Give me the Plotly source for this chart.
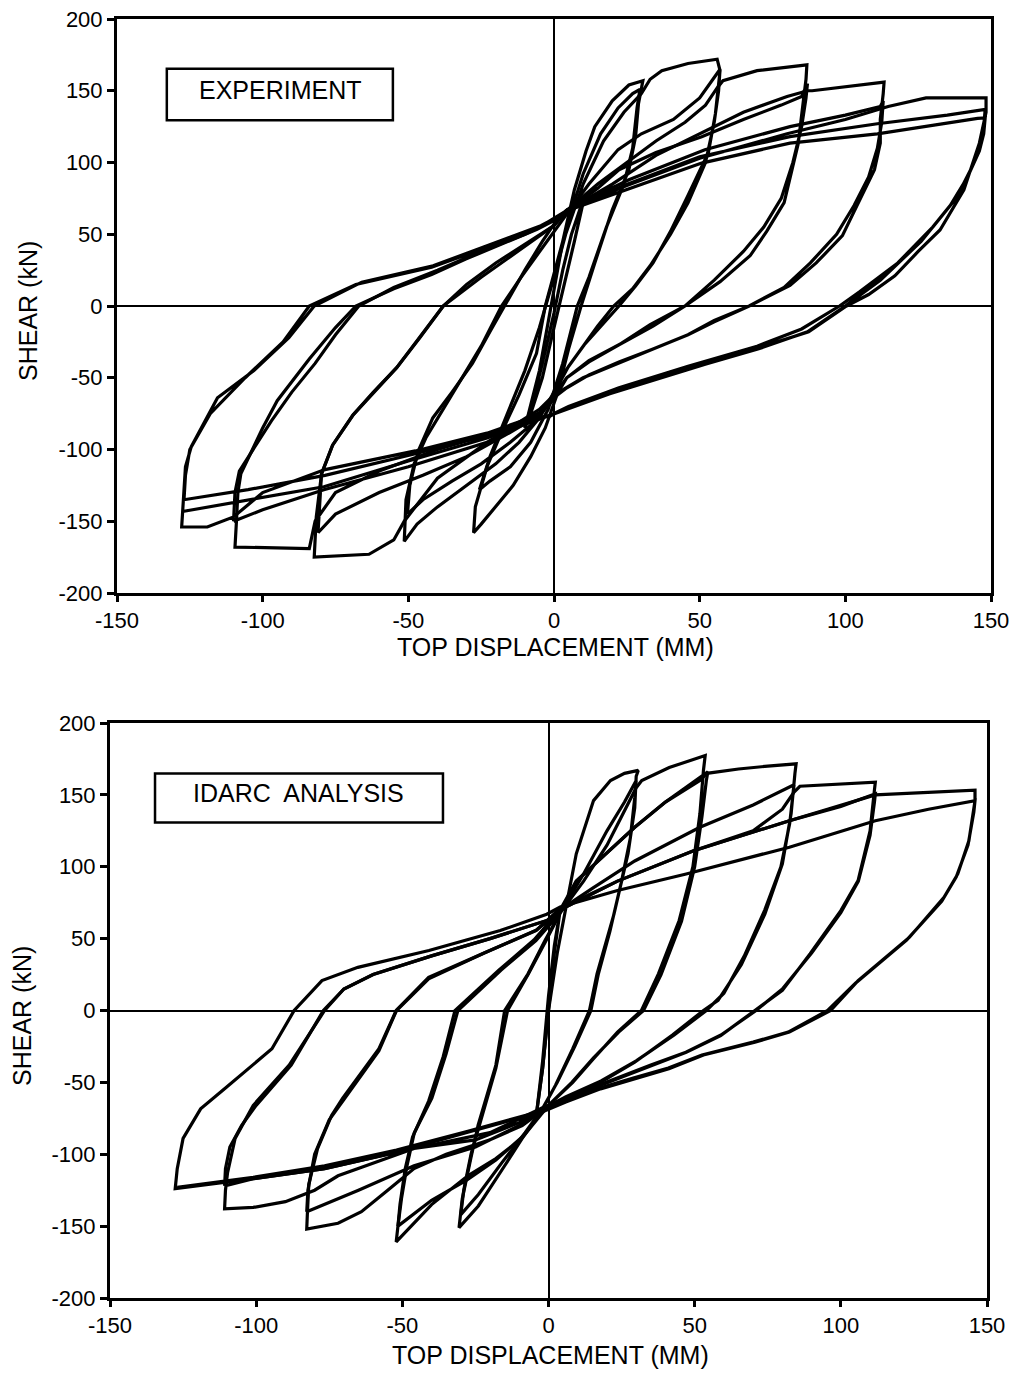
import plotly.graph_objects as go

# ---------------- EXPERIMENT (top panel) : displacement (mm), shear (kN) ----------------
EXP_L1_X = [-10, -7, -4, 0, 3, 6, 9, 10, 7, 4, 0, -4, -8, -10]
EXP_L1_Y = [-85, -65, -40, -5, 25, 50, 68, 72, 45, 20, -15, -50, -75, -85]

EXP_L2_X = [-10, -5, -1, 3, 7, 11, 14, 20, 25.7, 30.5,
            29, 28, 25.7, 20, 14, 9.3, 5, 1, -3, -8, -14, -20, -25, -27.6,
            -27, -23, -18, -12, -6, -3, 1, 5, 10, 16, 22, 27, 29.5,
            28.5, 27, 24, 18, 12, 8, 3, -2, -8, -15, -22, -25.6]
EXP_L2_Y = [-85, -45, 0, 45, 81, 108, 125, 143, 154, 157,
            141, 118, 95, 67, 30, 0, -30, -62, -85, -105, -125, -140, -152, -158,
            -140, -112, -88, -62, -33, 0, 30, 60, 92, 120, 138, 148, 151,
            138, 110, 85, 55, 20, 0, -40, -72, -95, -112, -122, -128]

EXP_L3_X = [-25.6, -22, -16, -10, -5, 0, 4, 10, 17, 24, 30, 33, 37, 46, 56,
            57, 55.4, 53, 46, 40, 34, 28, 22.3, 16, 10.4, 5, 1, -5, -12, -20, -30, -40, -47, -51.4,
            -50.8, -48, -44, -38, -31.6, -25, -18, -12, -6, 0, 4, 12, 22, 30, 41, 50, 55.5, 57,
            56.5, 55, 52, 46, 40, 33, 27, 20.5, 15, 10, 4, 0, -5, -15, -25, -35, -45, -50.3]
EXP_L3_Y = [-128, -105, -75, -45, -15, 20, 50, 85, 115, 135, 148, 158, 164, 169, 172,
            164, 134, 107, 77, 52, 30, 14, 0, -14, -27, -42, -57, -78, -95, -110, -125, -140, -152, -164,
            -135, -110, -92, -72, -50, -28, 0, 18, 35, 52, 63, 85, 109, 120, 130, 145, 160, 165,
            150, 128, 100, 72, 50, 28, 12, 0, -14, -28, -45, -60, -78, -95, -110, -122, -135, -145]

EXP_L4_X = [-50.3, -49.5, -46.6, -41.6, -35, -28, -22, -17, -10, -4, 0, 4, 15, 25, 35, 45, 52, 56, 58, 69.7, 86.8,
            86.5, 85.5, 83.8, 79, 73, 67.3, 57, 45, 34, 22.3, 12, 4.4, -3.8, -10, -25, -40, -51.4, -55, -63.5, -82.3,
            -82, -81.6, -79.8, -76, -69, -62, -54, -46, -38, -30, -20, -10, 0, 4, 15, 22.3, 35, 50.7, 65, 78, 85, 87,
            86.5, 85, 82, 78, 72, 65, 55, 45, 33, 22.3, 12, 4.4, 0, -5, -15, -30, -45, -60, -75, -81]
EXP_L4_Y = [-145, -125, -101, -78, -60, -40, -18, 0, 25, 45, 57, 66, 85, 100, 115, 128, 140, 152, 157, 164, 168,
            158, 141, 113, 72, 52, 35, 17, 0, -14, -27, -39, -50, -73, -80, -98, -120, -150, -163, -173, -175,
            -160, -147, -117, -97, -76, -60, -43, -22, 0, 15, 30, 43, 56, 65, 82, 95, 107, 118, 130, 140, 146, 155,
            145, 125, 100, 75, 55, 38, 18, 0, -13, -27, -38, -50, -65, -76, -88, -105, -118, -130, -145, -158]

EXP_L5_X = [-81, -80.5, -79.8, -76, -69, -54, -38, -25, -10, 0, 4, 20, 35, 50, 65, 80, 87, 88.6, 100, 113.3,
            113, 112, 112, 110, 104, 99, 90, 81, 67, 55, 46, 34, 22.3, 12, 4.4, -1.4, -5, -20, -40, -60, -75, -82, -84, -100, -109.5,
            -109, -108.5, -107.5, -104.5, -100, -95, -84, -75, -68, -55, -42, -30.3, -18, -5.8, 1.4, 4.5, 25.7, 51.8, 81, 100, 112, 113,
            112.5, 111, 108, 103, 97, 88, 79, 67, 55, 46, 34, 22.3, 10, 0, -5, -23, -50, -79, -100, -110]
EXP_L5_Y = [-158, -140, -117, -97, -76, -43, 0, 20, 42, 56, 66, 85, 105, 120, 135, 146, 150, 150, 153, 156,
            148, 130, 113.5, 95, 70, 49, 30, 14.3, 0, -10, -20, -30, -39, -48, -57, -66, -75, -88, -100, -115, -130, -150, -169, -168.5, -168,
            -150, -130, -117, -104, -85, -66, -37, -15, 0, 12, 22, 32.7, 43, 53.5, 61, 67, 88, 108.9, 125, 133, 139, 143,
            128, 110, 90, 70, 50, 30, 13, 0, -11, -20, -30, -40, -50, -62, -72, -95, -112, -128, -142, -150]

EXP_L6_X = [-110, -109.5, -108, -104, -97, -90, -82, -75, -67, -55, -40, -25, -10, 0, 4.5, 25, 50, 80, 100, 114.7, 127.7, 148.3,
            148.3, 146, 143, 140.7, 132.5, 125, 117, 108, 100.4, 87.4, 69.7, 46, 22.3, 5, -1.4, -10.9, -23, -47.6, -78.6, -100, -110, -119, -127.8,
            -127.3, -126.5, -124.5, -115.5, -103, -91, -82.3, -66, -41.5, -23, -4.5, 2, 4.5, 24, 50, 81, 111, 135, 148,
            147.5, 146, 143, 138, 130, 118, 105, 98, 85, 69.7, 46, 22.3, 5, -1, -10.9, -23, -47.6, -78.6, -105, -127,
            -126.5, -125, -118, -106, -93, -84, -68, -42, -23, -5, 4, 24.6, 50.7, 81, 111, 145.4, 148,
            147.5, 146, 142, 136, 126, 112, 100, 87, 70, 46, 22, 0, -23, -50, -79, -127]
EXP_L6_Y = [-150, -130, -115, -102, -80, -60, -40, -20, 0, 13, 25, 38, 50, 60, 67, 84, 103, 120, 130, 139, 145, 145,
            135, 113.5, 95, 81, 53, 38, 21, 8, 0, -18, -29.5, -44.4, -59.5, -70, -76.8, -80, -88.6, -101, -114, -130, -147, -154, -154,
            -135, -112, -98, -64, -45, -22, 0, 16.6, 28, 42, 56, 63, 67, 84, 104, 118, 127, 133, 137,
            125, 110, 95, 75, 55, 30, 10, 0, -16, -28, -42, -57, -70, -76, -80, -90, -103, -118, -128, -135,
            -118, -100, -75, -50, -25, 0, 15, 27, 41, 55, 66, 81, 99.6, 113.5, 120, 130.8, 131,
            120, 108, 90, 70, 45, 18, 0, -18, -30, -44, -59, -75, -92, -108, -126, -143]

# ---------------- IDARC ANALYSIS (bottom panel) ----------------
IDA_L1_X = [-4, -2, 0, 2, 4, 2, 0, -2, -4]
IDA_L1_Y = [-70, -35, 10, 45, 70, 40, 0, -40, -70]

IDA_L2_X = [-4, -2, 0, 3, 6, 9.5, 15.4, 21.2, 26, 30.7,
            30, 29.5, 27.2, 22.4, 16.6, 14, 8.3, 2.4, -2.4, -9, -15, -24, -30.6,
            -29.5, -26.6, -24.1, -18, -15, -7, -1.2, 4, 12, 20, 26, 30,
            29.5, 28, 25, 21, 17, 14.5, 9, 3, -2, -8, -16, -24, -30]
IDA_L2_Y = [-70, -40, 0, 40, 72, 109, 146, 160, 165, 167,
            163, 141, 109, 67, 25.5, 0, -26.6, -52, -70, -89, -108, -136, -151,
            -131, -103, -80, -38, 0, 25.5, 48.7, 68, 95, 125, 145, 160,
            148, 120, 90, 55, 25, 0, -25, -50, -68, -85, -106, -128, -142]

IDA_L3_X = [-30, -29, -26.5, -23, -18, -14, -7, -1, 4, 12, 20, 25, 30, 31.9, 41.3, 53.6,
            53, 51.8, 49.4, 44.7, 37.6, 31.8, 23.6, 15.4, 8.3, 0, -9.2, -18, -27.6, -40, -52.1,
            -51.5, -50.3, -48.4, -45.9, -39.9, -35, -31, -16.3, -4.3, 4, 9.5, 20, 29.5, 40, 51.8, 54.5,
            54, 52.5, 50, 45.5, 38.5, 32.5, 24, 15.4, 8, 0, -9, -18, -28, -40, -51.5]
IDA_L3_Y = [-142, -125, -100, -75, -40, 0, 25, 48, 68, 90, 115, 135, 155, 160, 169, 177.4,
            167, 137, 100, 62.6, 25.5, 0, -15, -33.6, -50, -66, -89, -103, -115, -135, -161,
            -150, -131, -108, -85, -61, -30, 0, 28, 48.7, 68, 90, 110, 127.5, 145, 162, 166,
            160, 135, 100, 62, 25, 0, -15, -33, -50, -66, -88, -104, -118, -132, -150]

IDA_L4_X = [-51.5, -50.8, -49, -46.5, -41, -36, -32, -17, -5, 4, 9.5, 20, 29.5, 40, 51.8, 54.2, 65, 75, 84.7,
            84.3, 83, 80, 74, 66, 58, 53, 42.4, 29.5, 17.8, 5.9, -2.4, -9, -20, -35, -46, -55, -64, -72, -82.7,
            -82.5, -82, -79, -74.2, -70.4, -58, -52.1, -41, -22.6, -4.3, 4, 15, 29.5, 51.8, 70, 82.4, 84,
            83.5, 82.5, 79.5, 74, 67, 60, 54, 43, 30, 18, 6, -2.4, -10, -25, -46, -65, -82.7]
IDA_L4_Y = [-150, -135, -110, -88, -63, -32, 0, 28, 49, 70, 90, 110, 127.5, 145, 160, 165, 168, 170, 171.6,
            165, 137, 102, 67, 32, 7, 0, -17, -36, -50, -61, -70, -80, -90, -100, -110, -125, -140, -148, -152,
            -142, -121, -96, -73, -61, -26.6, 0, 23, 39.5, 55.6, 70, 85, 104, 127.5, 143, 155.4, 157,
            148, 130, 100, 70, 38, 12, 0, -17, -35, -49, -60, -69, -80, -95, -108, -125, -140]

IDA_L5_X = [-82.7, -82.3, -80, -75, -70, -58, -52, -41, -22, -4, 4, 23.6, 49.4, 70, 80, 84, 86, 100, 111.8,
            111.5, 110, 105.9, 100, 89.5, 80, 70.6, 58.9, 47.1, 35.4, 23.6, 11.9, -2.4, -10, -25, -46, -60, -72, -80, -90, -101, -110.8,
            -110.5, -109.8, -107.2, -101, -88.7, -76.6, -70, -60, -40, -20, 0, 4, 23.6, 49.4, 82.4, 100, 111.8,
            111.5, 110, 106, 100, 90, 80, 71, 59, 47, 35, 23.6, 12, -2.4, -20, -46, -76.6, -101, -110.8]
IDA_L5_Y = [-140, -125, -100, -76, -62, -28, 0, 22, 40, 56, 71, 90, 111, 125, 140, 152, 156, 157.5, 158.8,
            153.5, 125, 90.4, 69.5, 39.5, 14, 0, -17.4, -29, -38, -47.5, -56.7, -68, -78, -90, -96, -106, -115, -125, -133, -137, -138,
            -125, -113, -89, -66, -38, 0, 15, 25, 38, 50, 63, 70, 90, 111, 132, 142, 150.7,
            145, 122, 90, 68, 40, 15, 0, -17, -29, -38, -47, -56, -68, -85, -96, -110, -117, -122]

IDA_L6_X = [-110.8, -110.5, -109, -105, -100, -88, -77, -70, -60, -40, -20, 0, 4, 23.6, 49.4, 82.4, 111.8, 130, 145.9,
            145.9, 143.8, 140, 135.3, 123.5, 105.9, 96.5, 82.4, 70.6, 53, 41.2, 29.5, 17.8, 5.9, -2.4, -27.6, -52, -76.6, -101, -127.7,
            -127, -125, -119, -110.8, -94.6, -87, -77.5, -65.2, -40.9, -16.5, -0.6, 4, 23.6, 47.1, 82.4, 111.8, 130, 145.9,
            145.5, 143.5, 139.5, 134.5, 122.5, 105, 95.5, 82, 70, 52.5, 41, 29, 17.5, 5.5, -2.4, -27.6, -52, -76.6, -101, -127]
IDA_L6_Y = [-122, -110, -95, -80, -66, -38, 0, 15, 25, 38, 50, 63, 70, 90, 111, 132, 150, 152, 153.3,
            146, 118, 95, 78.8, 51, 20.8, 0, -15, -22, -31, -40.6, -47.5, -54.5, -63.7, -70.7, -84.6, -98.5, -110, -117, -124,
            -110, -89, -68.4, -54.5, -26.6, 0, 20.8, 30, 41.7, 55.6, 67, 72, 83.5, 95, 113.6, 132, 140, 146,
            138, 115, 93, 76, 49, 19, 0, -15, -22, -31, -40, -47, -54, -63, -70, -84, -97, -108, -116, -123]

X_TICKS = [-150, -100, -50, 0, 50, 100, 150]
X_TICK_TEXT = ["-150", "-100", "-50", "0", "50", "100", "150"]
Y_TICKS = [-200, -150, -100, -50, 0, 50, 100, 150, 200]
Y_TICK_TEXT = ["-200", "-150", "-100", "-50", "0", "50", "100", "150", "200"]

PANEL_LABELS = ["EXPERIMENT", "IDARC  ANALYSIS"]
X_TITLE = "TOP DISPLACEMENT (MM)"
Y_TITLE = "SHEAR (kN)"

FONT = "Liberation Sans, Arial, Helvetica, sans-serif"
# the page body keeps its default 8 px margin, so the figure is drawn 8 px in
OFF = 8
W, H = 1024 - OFF, 1373 - OFF


def fx(px):
    return (px - OFF) / W


def fy(py):
    return 1 - (py - OFF) / H


fig = go.Figure()
line_style = dict(color="black", width=3.2)

exp_sets = [(EXP_L1_X, EXP_L1_Y), (EXP_L2_X, EXP_L2_Y), (EXP_L3_X, EXP_L3_Y),
            (EXP_L4_X, EXP_L4_Y), (EXP_L5_X, EXP_L5_Y), (EXP_L6_X, EXP_L6_Y)]
ida_sets = [(IDA_L1_X, IDA_L1_Y), (IDA_L2_X, IDA_L2_Y), (IDA_L3_X, IDA_L3_Y),
            (IDA_L4_X, IDA_L4_Y), (IDA_L5_X, IDA_L5_Y), (IDA_L6_X, IDA_L6_Y)]

for xs, ys in exp_sets:
    fig.add_trace(go.Scatter(x=xs, y=ys, mode="lines", line=line_style,
                             xaxis="x", yaxis="y", showlegend=False, hoverinfo="skip"))
for xs, ys in ida_sets:
    fig.add_trace(go.Scatter(x=xs, y=ys, mode="lines", line=line_style,
                             xaxis="x2", yaxis="y2", showlegend=False, hoverinfo="skip"))


def xa(domain, anchor):
    return dict(domain=domain, anchor=anchor, range=[-150, 150], tickmode="array",
                tickvals=X_TICKS, ticktext=X_TICK_TEXT, ticks="outside", ticklen=6,
                tickwidth=2.5, tickcolor="black", showline=True, linewidth=3,
                linecolor="black", mirror=True, showgrid=False, zeroline=True,
                zerolinecolor="black", zerolinewidth=2, automargin=False,
                ticklabeloverflow="allow",
                tickfont=dict(family=FONT, size=22, color="black"))


def ya(domain, anchor):
    return dict(domain=domain, anchor=anchor, range=[-200, 200], tickmode="array",
                tickvals=Y_TICKS, ticktext=Y_TICK_TEXT, ticks="outside", ticklen=7,
                tickwidth=2.5, tickcolor="black", showline=True, linewidth=3,
                linecolor="black", mirror=True, showgrid=False, zeroline=True,
                zerolinecolor="black", zerolinewidth=2, automargin=False,
                ticklabeloverflow="allow",
                tickfont=dict(family=FONT, size=22, color="black"))


fig.update_layout(
    width=W, height=H, margin=dict(l=0, r=0, t=0, b=0, autoexpand=False),
    paper_bgcolor="white", plot_bgcolor="white", showlegend=False,
    xaxis=xa([fx(117), fx(991)], "y"),
    yaxis=ya([fy(593), fy(19)], "x"),
    xaxis2=xa([fx(110), fx(987)], "y2"),
    yaxis2=ya([fy(1298), fy(723)], "x2"),
)

# label boxes
fig.add_shape(type="rect", xref="x", yref="y", x0=-132.9, x1=-55.3, y0=129.4, y1=165.4,
              line=dict(color="black", width=2.5), fillcolor="white")
fig.add_shape(type="rect", xref="x2", yref="y2", x0=-134.6, x1=-36.1, y0=130.8, y1=164.9,
              line=dict(color="black", width=2.5), fillcolor="white")

ann = []
ann.append(dict(text=PANEL_LABELS[0], xref="x", yref="y", x=-94, y=150.5, showarrow=False,
                font=dict(family=FONT, size=25, color="black"), xanchor="center", yanchor="middle"))
ann.append(dict(text=PANEL_LABELS[1], xref="x2", yref="y2", x=-85.5, y=151, showarrow=False,
                font=dict(family=FONT, size=25, color="black"), xanchor="center", yanchor="middle"))
# axis titles
for (cx, cy) in [(555, 647), (550, 1355)]:
    ann.append(dict(text=X_TITLE, xref="paper", yref="paper", x=fx(cx), y=fy(cy),
                    showarrow=False, font=dict(family=FONT, size=25, color="black"),
                    xanchor="center", yanchor="middle"))
for (cx, cy) in [(28, 311), (22, 1016)]:
    ann.append(dict(text=Y_TITLE, xref="paper", yref="paper", x=fx(cx), y=fy(cy),
                    showarrow=False, textangle=-90, font=dict(family=FONT, size=25, color="black"),
                    xanchor="center", yanchor="middle"))
fig.update_layout(annotations=ann)

fig.write_html("out.html")
